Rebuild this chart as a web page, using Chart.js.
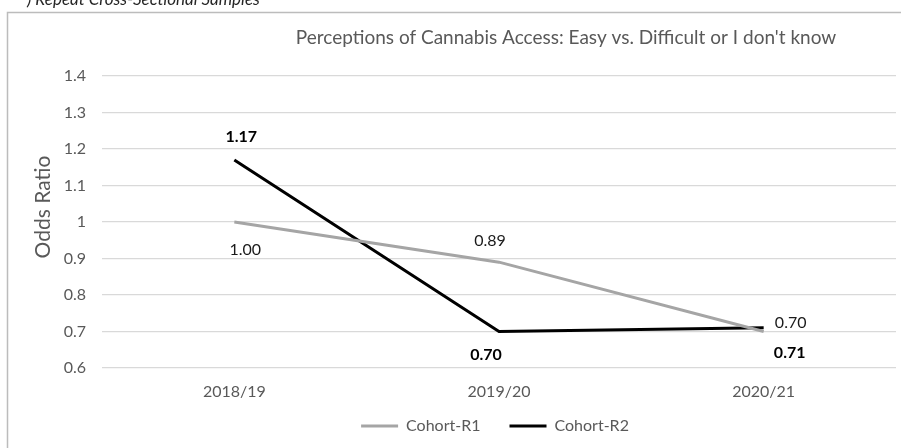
<!DOCTYPE html>
<html>
<head>
<meta charset="utf-8">
<script src="https://cdn.jsdelivr.net/npm/chart.js@4.4.1/dist/chart.umd.min.js"></script>
<style>
  html, body { margin: 0; padding: 0; background: #ffffff; }
  #wrap { width: 901px; height: 448px; position: relative; }
</style>
</head>
<body>
<div id="wrap"><canvas id="chart" width="901" height="448"></canvas></div>
<script>
// Survey years on the category axis
const categories = ['2018/19', '2019/20', '2020/21'];
// Odds ratios per cohort
const cohortR1 = [1.00, 0.89, 0.70];
const cohortR2 = [1.17, 0.70, 0.71];
// Value axis range and step
const yMin = 0.6;
const yMax = 1.4;
const yStep = 0.1;

const chartTitle = "Perceptions of Cannabis Access: Easy vs. Difficult or I don't know";
const yAxisTitle = 'Odds Ratio';
const caption = ') Repeat Cross-Sectional Samples';

const FONT = 'Lato, "Open Sans", "DejaVu Sans", sans-serif';
const GREY_TEXT = '#595959';

// Frame, caption, chart title and rotated axis title
const decorations = {
  id: 'decorations',
  beforeDraw(chart) {
    const ctx = chart.ctx;
    ctx.save();
    ctx.fillStyle = '#ffffff';
    ctx.fillRect(0, 0, chart.width, chart.height);
    ctx.strokeStyle = '#bcbcbc';
    ctx.lineWidth = 1.5;
    ctx.strokeRect(7.5, 12.5, chart.width + 20, chart.height + 20);
    ctx.restore();
  },
  afterDraw(chart) {
    const ctx = chart.ctx;
    ctx.save();
    // caption running off the top edge
    ctx.fillStyle = '#262626';
    ctx.font = 'italic 17px ' + FONT;
    ctx.textAlign = 'left';
    ctx.textBaseline = 'alphabetic';
    ctx.fillText(caption, 27, 5);
    // chart title
    ctx.fillStyle = GREY_TEXT;
    ctx.font = '19px ' + FONT;
    ctx.textAlign = 'center';
    ctx.textBaseline = 'middle';
    ctx.fillText(chartTitle, 566, 38);
    // value axis title
    ctx.translate(43, 207);
    ctx.rotate(-Math.PI / 2);
    ctx.font = '21px ' + FONT;
    ctx.fillText(yAxisTitle, 0, 0);
    ctx.restore();
  }
};

// Centre the legend under the plot area and lift it closer to the axis labels
const legendPlacement = {
  id: 'legendPlacement',
  afterLayout(chart) {
    const lg = chart.legend;
    if (!lg) return;
    const area = chart.chartArea;
    lg.left = area.left - 4;
    lg.right = area.right - 4;
    lg.top -= 11;
    lg.bottom -= 11;
    if (lg.adjustHitBoxes) lg.adjustHitBoxes();
  }
};

// Value labels next to each point
const pointLabels = {
  id: 'pointLabels',
  afterDatasetsDraw(chart, args, opts) {
    const ctx = chart.ctx;
    ctx.save();
    ctx.textAlign = 'center';
    ctx.textBaseline = 'middle';
    chart.data.datasets.forEach((ds, di) => {
      const meta = chart.getDatasetMeta(di);
      const cfg = opts.sets[di];
      ctx.font = (cfg.bold ? 'bold ' : '') + '16px ' + FONT;
      ctx.fillStyle = cfg.color;
      meta.data.forEach((pt, i) => {
        const off = cfg.offsets[i];
        ctx.fillText(ds.data[i].toFixed(2), pt.x + off[0], pt.y + off[1]);
      });
    });
    ctx.restore();
  }
};

new Chart(document.getElementById('chart'), {
  type: 'line',
  data: {
    labels: categories,
    datasets: [
      {
        label: 'Cohort-R1',
        data: cohortR1,
        borderColor: '#a5a5a5',
        backgroundColor: '#a5a5a5',
        borderWidth: 3,
        pointRadius: 0,
        tension: 0,
        borderCapStyle: 'butt'
      },
      {
        label: 'Cohort-R2',
        data: cohortR2,
        borderColor: '#000000',
        backgroundColor: '#000000',
        borderWidth: 3,
        pointRadius: 0,
        tension: 0,
        borderCapStyle: 'butt'
      }
    ]
  },
  options: {
    responsive: false,
    animation: false,
    devicePixelRatio: 1,
    layout: { padding: { top: 76, right: 5, bottom: 4, left: 0 } },
    scales: {
      x: {
        type: 'category',
        offset: true,
        grid: { display: false, drawTicks: false },
        border: { display: false },
        ticks: { color: GREY_TEXT, font: { family: FONT, size: 16 }, padding: 14, maxRotation: 0 },
        afterFit(scale) { scale.height = 32; }
      },
      y: {
        min: yMin,
        max: yMax,
        grid: { color: '#d9d9d9', lineWidth: 1.2, drawTicks: false },
        border: { display: false },
        ticks: {
          stepSize: yStep,
          color: GREY_TEXT,
          font: { family: FONT, size: 16 },
          padding: 16,
          callback: (v) => String(+v.toFixed(1))
        },
        afterFit(scale) { scale.width = 102; }
      }
    },
    plugins: {
      title: { display: false },
      tooltip: { enabled: false },
      legend: {
        display: true,
        position: 'bottom',
        maxHeight: 44,
        labels: {
          color: GREY_TEXT,
          font: { family: FONT, size: 16 },
          usePointStyle: true,
          pointStyle: 'line',
          pointStyleWidth: 37,
          padding: 29
        }
      },
      pointLabels: {
        sets: [
          { bold: false, color: '#1a1a1a', offsets: [[11, 28], [-9, -21], [27, -9]] },
          { bold: true, color: '#000000', offsets: [[7, -23], [-13, 23], [26, 25]] }
        ]
      }
    }
  },
  plugins: [decorations, legendPlacement, pointLabels]
});
</script>
</body>
</html>
